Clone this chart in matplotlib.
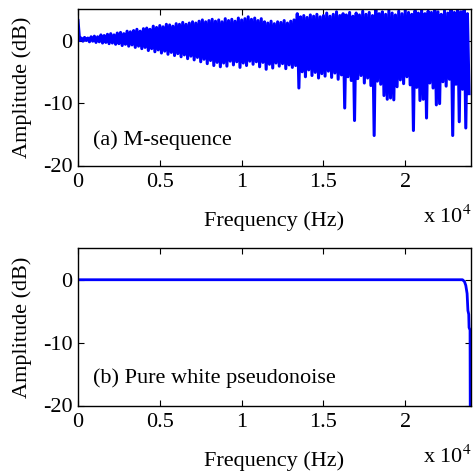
import numpy as np
import matplotlib
matplotlib.use("Agg")
import matplotlib.pyplot as plt

plt.rcParams['font.family'] = ['Liberation Serif', 'DejaVu Serif']
plt.rcParams['mathtext.fontset'] = 'stix'
plt.rcParams['axes.unicode_minus'] = False

# ---- data (a) M-sequence spectrum: alternating peak / trough levels (dB) ----
bin_step_hz = 100
peak_db = [3.2, 0.4, 0.5, 0.4, 0.6, 0.7, 0.6, 0.9, 0.8, 1.0,
           1.1, 0.9, 1.2, 1.3, 1.1, 1.5, 1.4, 1.6, 1.8, 1.5,
           1.9, 2.0, 1.8, 2.3, 2.1, 2.4, 2.2, 2.6, 2.5, 2.3,
           2.7, 2.6, 2.9, 2.6, 2.8, 3.0, 2.8, 3.1, 3.3, 3.0,
           3.2, 3.4, 3.1, 3.3, 3.0, 3.5, 3.2, 3.4, 3.1, 3.6,
           3.3, 3.5, 3.8, 3.4, 3.6, 3.2, 3.5, 3.0, 2.8, 3.1,
           2.7, 3.0, 2.9, 3.2, 2.8, 3.1, 3.3, 4.3, 3.8, 4.0,
           3.7, 4.1, 3.9, 4.2, 3.8, 4.0, 4.4, 3.9, 4.2, 4.6,
           4.0, 4.3, 4.1, 4.5, 3.9, 4.4, 4.1, 4.7, 4.2, 4.5,
           4.0, 5.1, 4.3, 4.6, 4.2, 4.8, 4.4, 4.1, 4.7, 4.3,
           4.9, 4.5, 4.2, 4.8, 4.4, 5.0, 4.3, 4.7, 4.5, 5.1,
           4.6, 4.2, 4.8, 4.4, 5.2, 4.5, 5.2, 4.6, 4.9, 4.3]
trough_db = [0.0, -0.1, 0.0, -0.2, -0.1, -0.3, -0.2, -0.4, -0.3, -0.5,
             -0.4, -0.6, -0.5, -0.8, -0.6, -0.9, -0.7, -1.1, -0.9, -1.3,
             -1.1, -1.6, -1.3, -1.8, -1.5, -2.0, -1.7, -2.2, -1.9, -2.4,
             -2.1, -2.6, -2.3, -2.9, -2.5, -3.1, -2.7, -3.4, -3.0, -3.7,
             -3.2, -4.0, -3.5, -4.2, -3.6, -4.1, -3.3, -3.9, -3.4, -4.3,
             -3.6, -4.0, -3.3, -3.8, -3.4, -4.2, -3.5, -4.6, -3.8, -4.4,
             -3.6, -4.1, -3.7, -4.5, -3.9, -4.3, -4.0, -7.6, -5.0, -5.8,
             -4.7, -5.6, -5.1, -6.0, -5.3, -5.7, -4.9, -5.9, -5.2, -6.2,
             -5.5, -10.8, -5.8, -6.4, -12.8, -6.1, -5.6, -6.8, -6.0, -7.2,
             -15.2, -6.5, -7.0, -8.8, -9.4, -9.2, -9.5, -7.4, -6.3, -6.9,
             -5.8, -7.1, -14.4, -7.5, -9.6, -9.4, -12.4, -6.8, -7.6, -10.3,
             -10.1, -6.6, -7.3, -6.2, -15.2, -7.0, -13.0, -7.8, -14.0, -8.5]

# ---- data (b) pure white pseudonoise spectrum ----
white_freq_hz = [0, 23500, 23620, 23700, 23780, 23830, 23880, 23900, 23960, 23990]
white_db = [0.0, 0.0, -0.3, -0.9, -2.2, -4.9, -5.5, -7.6, -8.0, -40.0]

xticks = [0, 5000, 10000, 15000, 20000]
xticklabels = ['0', '0.5', '1', '1.5', '2']
yticks = [-20, -10, 0]
yticklabels = ['-20', '-10', '0']

# interleave peaks and troughs into one line
mseq_db = np.empty(len(peak_db) + len(trough_db))
mseq_db[0::2] = peak_db
mseq_db[1::2] = trough_db
mseq_freq = np.arange(len(mseq_db)) * bin_step_hz

W, H = 474, 475
fig = plt.figure(figsize=(W / 100, H / 100), dpi=100)

FS = 16
blue = '#0000ff'

def style(ax, exp_baseline_px):
    ax.set_xlim(0, 24000)
    ax.set_ylim(-20, 5)
    ax.set_xticks(xticks)
    ax.set_xticklabels(xticklabels)
    ax.set_yticks(yticks)
    ax.set_yticklabels(yticklabels)
    ax.tick_params(direction='in', top=True, right=True, length=4, width=0.8,
                   labelsize=FS)
    ax.tick_params(axis='x', pad=5.5)
    ax.tick_params(axis='y', pad=4)
    for s in ax.spines.values():
        s.set_linewidth(1.0)
    ax.set_ylabel('Amplitude (dB)', fontsize=FS, labelpad=8)
    ax.set_xlabel('Frequency (Hz)', fontsize=FS, labelpad=14)
    fig.text(471.5 / W, 1 - exp_baseline_px / H, r'x 10$^{4}$', ha='right',
             va='baseline', fontsize=FS)

ax1 = fig.add_axes([78 / W, 1 - 165.5 / H, (470.7 - 78) / W, (165.5 - 9.3) / H])
ax1.plot(mseq_freq, mseq_db, color=blue, lw=2.2, solid_joinstyle='round')
style(ax1, 223.3)
ax1.text(900, -16, '(a) M-sequence', fontsize=FS, va='center', ha='left')

ax2 = fig.add_axes([78 / W, 1 - 405.5 / H, (470.7 - 78) / W, (405.5 - 248.3) / H])
ax2.plot(white_freq_hz, white_db, color=blue, lw=2.0)
style(ax2, 463.3)
ax2.text(900, -15.6, '(b) Pure white pseudonoise', fontsize=FS, va='center', ha='left')

fig.savefig('out.png', dpi=100)
